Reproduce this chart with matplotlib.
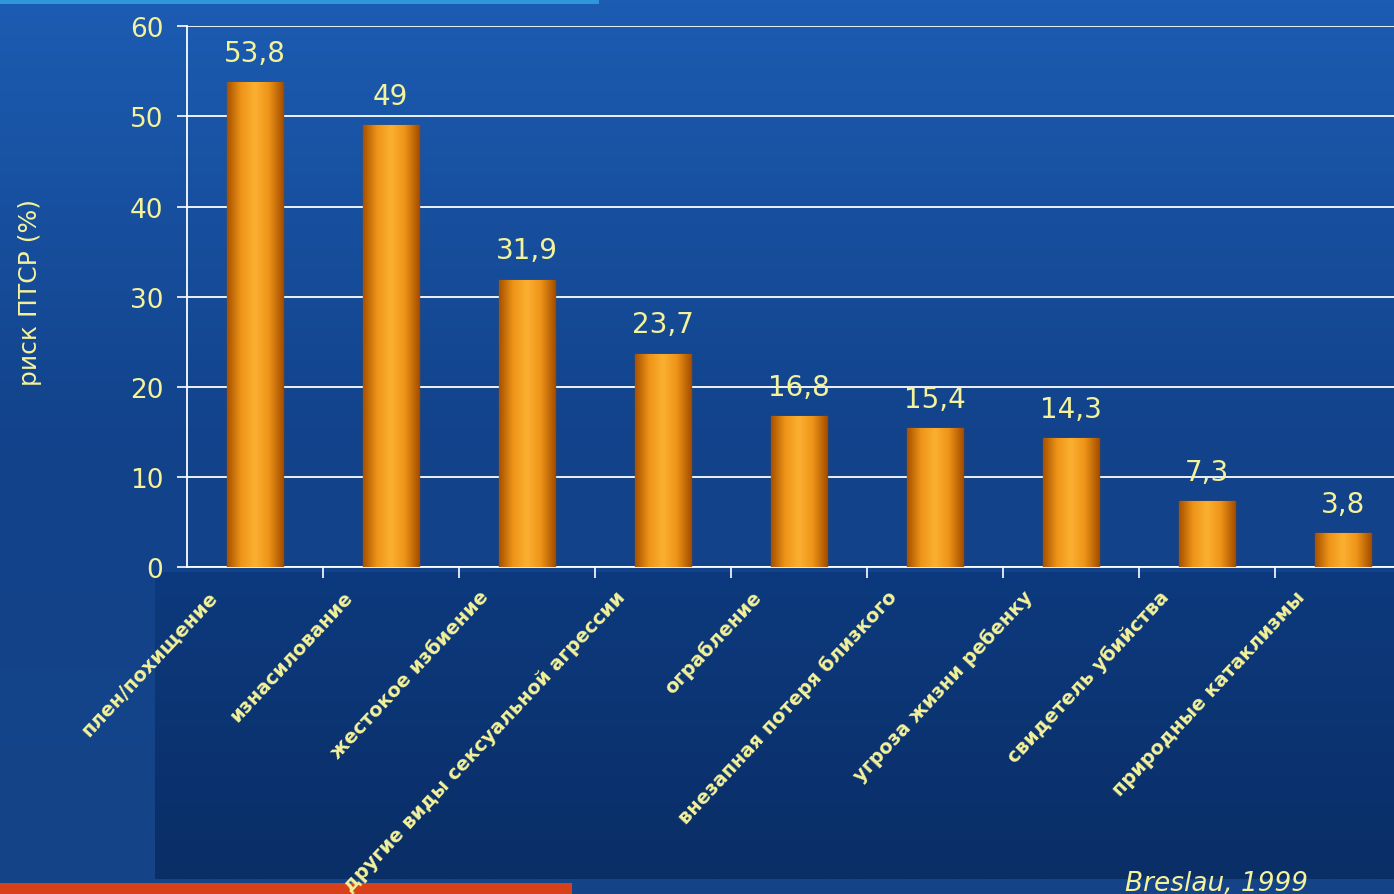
import numpy as np
import matplotlib
matplotlib.use('Agg')
import matplotlib.pyplot as plt
from matplotlib.colors import LinearSegmentedColormap
from matplotlib.patches import Rectangle
from matplotlib.transforms import ScaledTranslation

# data
categories = ['плен/похищение', 'изнасилование', 'жестокое избиение',
              'другие виды сексуальной агрессии', 'ограбление',
              'внезапная потеря близкого', 'угроза жизни ребенку',
              'свидетель убийства', 'природные катаклизмы']
values = [53.8, 49, 31.9, 23.7, 16.8, 15.4, 14.3, 7.3, 3.8]
value_labels = ['53,8', '49', '31,9', '23,7', '16,8', '15,4', '14,3', '7,3', '3,8']
yticks = [0, 10, 20, 30, 40, 50, 60]

txt = '#f4f29a'

fig = plt.figure(figsize=(13.94, 8.95), dpi=100)

# background: blue gradient, darker panel under the chart
bg = fig.add_axes([0, 0, 1, 1], zorder=-2)
grad = np.linspace(0, 1, 256).reshape(-1, 1)
bg_cmap = LinearSegmentedColormap.from_list('bg', ['#154488', '#12428a', '#1c5cb2'])
bg.imshow(grad, aspect='auto', cmap=bg_cmap, origin='lower', extent=[0, 1, 0, 1])
panel_cmap = LinearSegmentedColormap.from_list('panel', ['#0a2e66', '#0d3a7e'])
bg.imshow(grad, aspect='auto', cmap=panel_cmap, origin='lower',
          extent=[0.111, 1, 0.017, 0.36])
bg.add_patch(Rectangle((0, 0.994), 0.43, 0.006, color='#2f96dc', lw=0))
bg.add_patch(Rectangle((0, 0), 0.41, 0.012, color='#d8401a', lw=0))
bg.set_xlim(0, 1)
bg.set_ylim(0, 1)
bg.axis('off')

ax = fig.add_axes([0.134, 0.365, 0.878, 0.6045])
ax.set_facecolor('none')

x = np.arange(len(values))
bars = ax.bar(x, values, width=0.41, color='#f09a20', edgecolor='#a04a00', linewidth=1.0, zorder=3)

# cylindrical shading on the bars
bar_cmap = LinearSegmentedColormap.from_list('bar', ['#a85200', '#ee9418', '#fbb030', '#ee9418', '#a85200'])
shade = np.linspace(0, 1, 100).reshape(1, -1)
for b in bars:
    im = ax.imshow(shade, aspect='auto', cmap=bar_cmap,
                   extent=[b.get_x(), b.get_x() + b.get_width(), 0, b.get_height()],
                   zorder=3.5)
    im.set_clip_path(b)

for xi, v, lab in zip(x, values, value_labels):
    ax.text(xi, v + 1.7, lab, ha='center', va='bottom', color=txt, fontsize=20, zorder=5)

ax.set_xlim(-0.5, 8.5)
ax.set_ylim(0, 60)
ax.set_yticks(yticks)
ax.tick_params(axis='y', colors='white', labelcolor=txt, labelsize=19, length=7, width=1.2,
               direction='out', pad=10)
ax.yaxis.grid(True, color='white', linewidth=1.3, zorder=0)
ax.set_axisbelow(True)

ax.set_xticks(x)
ax.set_xticklabels(categories, rotation=47, ha='right', rotation_mode='anchor',
                   color=txt, fontsize=14, fontweight='bold')
ax.tick_params(axis='x', which='major', length=0, pad=14)
ax.set_xticks(np.arange(0.5, 8.5, 1), minor=True)
ax.tick_params(axis='x', which='minor', colors='white', length=8, width=1.2)
shift = ScaledTranslation(-0.48, 0, fig.dpi_scale_trans)
for lbl in ax.get_xticklabels():
    lbl.set_transform(lbl.get_transform() + shift)

for s in ['top', 'right']:
    ax.spines[s].set_visible(False)
for s in ['left', 'bottom']:
    ax.spines[s].set_color('white')
    ax.spines[s].set_linewidth(1.3)

ax.set_ylabel('риск ПТСР (%)', color=txt, fontsize=18)
ax.yaxis.set_label_coords(-0.118, 0.51)

fig.text(0.807, 0.004, 'Breslau, 1999', color=txt, fontsize=19, style='italic', va='baseline')

fig.savefig('out.png', dpi=100)
